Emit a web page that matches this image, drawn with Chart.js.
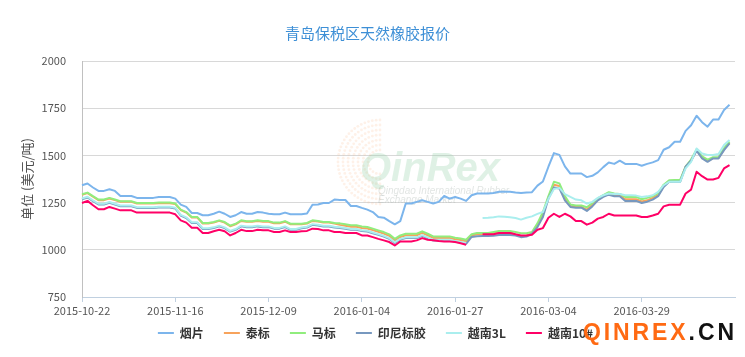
<!DOCTYPE html>
<html><head><meta charset="utf-8">
<script src="https://cdn.jsdelivr.net/npm/chart.js@4/dist/chart.umd.min.js"></script>
<style>html,body{margin:0;padding:0;background:#fff}#wrap{width:745px;height:357px;position:relative}</style>
</head><body><div id="wrap"><canvas id="c" width="745" height="357"></canvas></div>
<script>
const titleText = '青岛保税区天然橡胶报价';
const yAxisTitle = '单位 (美元/吨)';
const tickLabels = ['2015-10-22','2015-11-16','2015-12-09','2016-01-04','2016-01-27','2016-03-04','2016-03-29'];
const tickEvery = 17;
const pointCount = 120;
const yTicks = [750, 1000, 1250, 1500, 1750, 2000];
const seriesNames = ['烟片','泰标','马标','印尼标胶','越南3L','越南10#'];
const seriesColors = ['#7cb5ec','#f7a35c','#90ed7d','#7798bf','#aaeeee','#ff0066'];

const yanpian = [
1342,1351,1330,1312,1312,1321,1312,1285,1285,1285,
1275,1275,1275,1275,1280,1280,1280,1271,1239,1227,
1195,1195,1183,1183,1191,1202,1191,1174,1183,1200,
1191,1191,1200,1197,1191,1188,1188,1197,1188,1188,
1188,1192,1239,1240,1248,1248,1266,1264,1264,1232,
1232,1222,1213,1200,1174,1170,1152,1135,1152,1245,
1245,1254,1262,1254,1245,1254,1285,1271,1280,1271,
1259,1289,1298,1298,1298,1301,1307,1307,1307,1303,
1301,1303,1305,1340,1362,1440,1512,1503,1442,1404,
1404,1404,1385,1392,1410,1438,1462,1455,1472,1455,
1455,1455,1445,1455,1463,1475,1530,1543,1572,1572,
1630,1660,1710,1676,1652,1690,1690,1740,1768];

const taibiao = [
1291,1300,1281,1263,1263,1272,1263,1254,1254,1254,
1245,1245,1245,1245,1247,1247,1247,1242,1210,1197,
1171,1171,1139,1139,1144,1153,1144,1125,1135,1153,
1148,1148,1153,1149,1149,1141,1141,1149,1135,1135,
1135,1139,1153,1150,1144,1144,1139,1132,1127,1122,
1122,1116,1113,1104,1095,1086,1074,1050,1068,1077,
1077,1077,1090,1077,1063,1063,1063,1063,1056,1052,
1045,1076,1082,1083,1083,1088,1093,1093,1093,1080,
1072,1075,1088,1130,1188,1278,1345,1338,1272,1232,
1228,1228,1212,1238,1266,1285,1298,1290,1290,1268,
1268,1268,1256,1262,1275,1290,1338,1362,1364,1364,
1440,1474,1528,1488,1470,1486,1486,1532,1568];

const mabiao = [
1294,1303,1284,1266,1266,1275,1266,1257,1257,1257,
1248,1248,1248,1248,1250,1250,1250,1245,1213,1200,
1174,1174,1142,1142,1147,1156,1147,1128,1138,1156,
1151,1151,1156,1152,1152,1144,1144,1152,1138,1138,
1138,1142,1156,1153,1147,1147,1142,1140,1135,1130,
1130,1124,1121,1112,1103,1094,1082,1058,1076,1085,
1085,1085,1098,1085,1071,1071,1071,1071,1064,1060,
1053,1082,1089,1089,1089,1094,1099,1099,1099,1094,
1088,1088,1094,1140,1200,1285,1360,1352,1285,1240,
1235,1235,1225,1248,1272,1290,1305,1298,1296,1280,
1280,1280,1268,1275,1285,1300,1345,1368,1370,1370,
1440,1478,1532,1495,1478,1490,1490,1538,1573];

const yinni = [
1268,1277,1258,1240,1240,1249,1240,1231,1231,1231,
1222,1222,1222,1222,1224,1224,1224,1219,1181,1168,
1142,1142,1110,1110,1115,1124,1115,1096,1106,1124,
1119,1119,1124,1120,1120,1112,1112,1120,1106,1106,
1114,1118,1132,1129,1123,1123,1118,1116,1111,1106,
1106,1100,1097,1088,1079,1070,1058,1036,1054,1062,
1062,1062,1074,1062,1049,1049,1049,1049,1042,1038,
1032,1068,1072,1073,1073,1075,1078,1078,1078,1076,
1067,1070,1085,1120,1174,1271,1330,1325,1262,1227,
1223,1223,1206,1230,1262,1280,1292,1284,1284,1259,
1259,1259,1248,1255,1266,1284,1333,1360,1360,1360,
1440,1472,1525,1484,1466,1484,1484,1528,1564];

const vn3l = [
1272,1281,1262,1244,1244,1253,1244,1235,1235,1235,
1226,1226,1226,1226,1228,1228,1228,1223,1185,1172,
1146,1146,1114,1114,1119,1128,1119,1100,1110,1128,
1123,1123,1128,1124,1124,1116,1116,1124,1110,1110,
1118,1122,1136,1133,1127,1127,1122,1120,1115,1110,
1110,1104,1101,1092,1083,1074,1062,1040,1058,1066,
1066,1066,1078,1066,1053,1053,1053,1053,1046,1042,
1036,null,null,1168,1170,1173,1177,1175,1172,1168,
1160,1170,1177,1190,1200,1270,1322,1328,1295,1280,
1266,1262,1245,1254,1275,1289,1298,1296,1296,1289,
1289,1287,1280,1283,1289,1307,1342,1360,1360,1360,
1431,1466,1537,1510,1502,1502,1507,1555,1582];

const vn10 = [
1248,1259,1236,1215,1215,1227,1218,1209,1209,1209,
1197,1197,1197,1197,1197,1197,1197,1188,1156,1144,
1117,1117,1089,1089,1098,1106,1098,1076,1089,1106,
1099,1099,1106,1103,1103,1094,1094,1103,1094,1094,
1098,1100,1112,1110,1103,1103,1094,1094,1089,1089,
1089,1076,1076,1067,1058,1050,1041,1023,1044,1044,
1044,1050,1062,1053,1050,1046,1044,1044,1041,1035,
1027,null,null,1082,1082,1082,1089,1089,1089,1082,
1076,1076,1080,1106,1115,1170,1191,1174,1191,1177,
1152,1152,1133,1144,1165,1174,1191,1182,1182,1182,
1182,1182,1174,1174,1182,1191,1230,1239,1239,1239,
1298,1319,1413,1390,1372,1372,1381,1431,1449];

const seriesValues = [yanpian, taibiao, mabiao, yinni, vn3l, vn10];
const categories = Array.from({length: pointCount}, (_, i) =>
  (i % tickEvery === 0 && tickLabels[i / tickEvery]) ? tickLabels[i / tickEvery] : '');

const FONT = '"Noto Sans CJK SC", "Noto Sans", sans-serif';
const AXIS_COLOR = '#c0d0e0';

const watermarkPlugin = {
  id: 'watermarks',
  afterLayout(chart) {
    if (chart.legend) { chart.legend.left += 8; chart.legend.right += 8; }
    const xs = chart.scales.x;
    if (xs) { xs.bottom = xs.top + 30; }
  },
  beforeDatasetsDraw(chart) {
    const {ctx} = chart;
    ctx.save();
    ctx.fillStyle = 'rgba(250,185,140,0.20)';
    for (let r = 12; r <= 42; r += 5) {
      const n = Math.round(r * 0.8);
      for (let k = 0; k <= n; k++) {
        const a = Math.PI * 0.5 + (k / n) * Math.PI;
        ctx.beginPath();
        ctx.arc(380 + Math.cos(a) * r, 162 - Math.sin(a) * r, 1.4, 0, Math.PI * 2);
        ctx.fill();
      }
    }
    ctx.fillStyle = 'rgba(150,210,170,0.30)';
    ctx.font = 'italic bold 40px "Liberation Sans", Arial, sans-serif';
    ctx.textBaseline = 'alphabetic';
    ctx.fillText('QinRex', 360, 181);
    ctx.fillStyle = 'rgba(170,180,175,0.35)';
    ctx.font = 'italic 10px "Liberation Sans", Arial, sans-serif';
    ctx.fillText('Qingdao International Rubber', 378, 194);
    ctx.fillText('Exchange Market', 378, 203);
    ctx.restore();
  },
  afterDraw(chart) {
    const {ctx} = chart;
    ctx.save();
    ctx.font = 'bold 23px "Liberation Sans", Arial, sans-serif';
    ctx.textBaseline = 'middle';
    const parts = [['QINREX', '#ff6a13'], ['.CN', '#111111']];
    const letters = [];
    parts.forEach(([s, c]) => { for (const ch of s) letters.push([ch, c]); });
    const total = letters.reduce((w, [ch]) => w + ctx.measureText(ch).width, 0);
    const span = 734 - 583;
    const gap = (span - total) / (letters.length - 1);
    let x = 583;
    letters.forEach(([ch, c]) => {
      ctx.fillStyle = c;
      ctx.fillText(ch, x, 334);
      x += ctx.measureText(ch).width + gap;
    });
    ctx.restore();
  }
};

new Chart(document.getElementById('c'), {
  type: 'line',
  data: {
    labels: categories,
    datasets: seriesNames.map((name, k) => ({
      label: name,
      data: seriesValues[k],
      borderColor: seriesColors[k],
      backgroundColor: seriesColors[k],
      borderWidth: 2,
      pointRadius: 0,
      tension: 0,
      spanGaps: false,
      borderJoinStyle: 'round',
      order: seriesNames.length - k
    }))
  },
  options: {
    responsive: false,
    animation: false,
    devicePixelRatio: 1,
    layout: {padding: {left: 0, right: 10, top: 0, bottom: 8}},
    plugins: {
      title: {
        display: true,
        text: titleText,
        color: '#3d8fd6',
        font: {family: FONT, size: 15, weight: 'normal'},
        padding: {top: 24, bottom: 19}
      },
      legend: {
        position: 'bottom',
        labels: {
          usePointStyle: true,
          pointStyle: 'line',
          pointStyleWidth: 16,
          boxHeight: 12,
          padding: 20,
          color: '#333333',
          font: {family: FONT, size: 12, weight: 'bold'},
          sort: (a, b) => a.datasetIndex - b.datasetIndex
        }
      },
      tooltip: {enabled: false}
    },
    scales: {
      x: {
        type: 'category',
        afterFit(scale) { scale.height = 10; },
        grid: {
          display: true, drawOnChartArea: false, drawTicks: true, tickLength: 5,
          tickColor: (c) => (categories[c.index] ? AXIS_COLOR : 'rgba(0,0,0,0)'),
          color: AXIS_COLOR
        },
        border: {display: true, color: AXIS_COLOR, width: 1},
        ticks: {
          autoSkip: false, maxRotation: 0, minRotation: 0, padding: 2,
          color: '#555555',
          font: {family: FONT, size: 11},
          callback(v, i) { return categories[i]; }
        }
      },
      y: {
        min: 750, max: 2000,
        afterBuildTicks(scale) { scale.ticks = yTicks.map(v => ({value: v})); },
        afterFit(scale) { scale.width = 82; },
        grid: {color: '#d8d8d8', drawTicks: false, lineWidth: 1},
        border: {display: true, color: '#c0c0c0', width: 1},
        ticks: {padding: 16, color: '#555555', font: {family: FONT, size: 11},
          callback(v) { return String(v); }},
        title: {
          display: true, text: yAxisTitle, color: '#4d4d4d',
          font: {family: FONT, size: 13, weight: 'normal'},
          padding: {top: 19, bottom: 0}
        }
      }
    }
  },
  plugins: [watermarkPlugin]
});
</script></body></html>
